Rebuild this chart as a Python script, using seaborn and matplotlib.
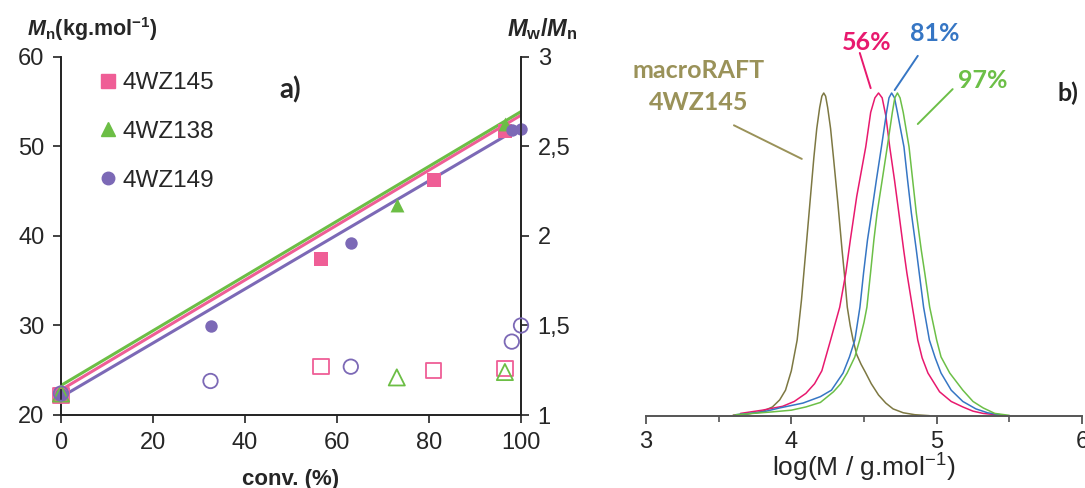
import numpy as np
import pandas as pd
import matplotlib.pyplot as plt
import seaborn as sns
from matplotlib.lines import Line2D

# ---- panel a) : Mn and Mw/Mn vs conversion ----
samples = ['4WZ145', '4WZ138', '4WZ149']
conv_145 = [0, 56.5, 81, 96.5]
mn_145 = [22.3, 37.4, 46.3, 51.7]
disp_145 = [1.11, 1.27, 1.25, 1.26]
conv_138 = [0, 73, 96.5]
mn_138 = [22.6, 43.5, 52.5]
disp_138 = [1.12, 1.21, 1.24]
conv_149 = [0, 32.5, 63, 98, 100]
mn_149 = [22.3, 29.9, 39.2, 51.8, 52.0]
disp_149 = [1.12, 1.19, 1.27, 1.41, 1.50]
# linear fits, Mn at 0 % and 100 % conversion
fit_conv = [0, 100]
fit_145 = [22.8, 53.5]
fit_138 = [23.3, 53.9]
fit_149 = [22.0, 52.2]

# ---- panel b) : SEC traces (normalised) ----
raft_x = [3.60, 3.70, 3.80, 3.87, 3.92, 3.96, 4.00, 4.04, 4.07, 4.10, 4.13, 4.155, 4.175, 4.195, 4.21, 4.223, 4.236,
          4.25, 4.27, 4.29, 4.32, 4.349, 4.365, 4.385, 4.405, 4.425, 4.45, 4.48, 4.51, 4.55, 4.60, 4.65, 4.70, 4.77,
          4.85, 4.95]
raft_y = [0.003, 0.006, 0.014, 0.028, 0.05, 0.08, 0.14, 0.235, 0.36, 0.514, 0.67, 0.80, 0.89, 0.955, 0.99, 1.0, 0.99,
          0.955, 0.89, 0.80, 0.66, 0.514, 0.44, 0.337, 0.28, 0.235, 0.19, 0.16, 0.135, 0.10, 0.065, 0.04, 0.022, 0.01,
          0.004, 0.001]
c56_x = [3.65, 3.80, 3.94, 4.02, 4.10, 4.16, 4.21, 4.27, 4.333, 4.375, 4.406, 4.45, 4.512, 4.546, 4.575, 4.60, 4.625,
         4.65, 4.677, 4.71, 4.74, 4.773, 4.795, 4.833, 4.87, 4.90, 4.94, 5.02, 5.10, 5.18, 5.25, 5.32, 5.45]
c56_y = [0.008, 0.018, 0.03, 0.045, 0.07, 0.10, 0.14, 0.235, 0.337, 0.443, 0.545, 0.68, 0.833, 0.94, 0.985, 1.0, 0.985,
         0.93, 0.833, 0.73, 0.628, 0.514, 0.443, 0.337, 0.235, 0.18, 0.133, 0.075, 0.045, 0.028, 0.015, 0.008, 0.002]
c81_x = [3.62, 3.80, 3.92, 4.08, 4.20, 4.276, 4.356, 4.40, 4.437, 4.472, 4.497, 4.524, 4.552, 4.585, 4.62, 4.655, 4.672,
         4.69, 4.71, 4.73, 4.755, 4.775, 4.80, 4.826, 4.86, 4.88, 4.91, 4.95, 4.99, 5.03, 5.10, 5.18, 5.27, 5.35, 5.45]
c81_y = [0.004, 0.012, 0.025, 0.04, 0.06, 0.08, 0.133, 0.183, 0.235, 0.337, 0.443, 0.545, 0.628, 0.73, 0.833, 0.94, 0.985,
         1.0, 0.985, 0.94, 0.88, 0.833, 0.73, 0.628, 0.514, 0.443, 0.337, 0.235, 0.18, 0.133, 0.08, 0.045, 0.022, 0.01,
         0.003]
c97_x = [3.62, 3.85, 4.00, 4.10, 4.20, 4.29, 4.34, 4.384, 4.437, 4.47, 4.50, 4.52, 4.545, 4.568, 4.59, 4.625, 4.66, 4.695,
         4.712, 4.73, 4.748, 4.77, 4.81, 4.835, 4.86, 4.894, 4.918, 4.952, 5.00, 5.03, 5.09, 5.18, 5.25, 5.32, 5.40, 5.50]
c97_y = [0.004, 0.012, 0.018, 0.028, 0.042, 0.075, 0.10, 0.133, 0.183, 0.235, 0.29, 0.337, 0.443, 0.545, 0.628, 0.73,
         0.833, 0.94, 0.985, 1.0, 0.985, 0.94, 0.833, 0.73, 0.628, 0.514, 0.443, 0.337, 0.235, 0.183, 0.133, 0.08, 0.045,
         0.025, 0.008, 0.002]

pink, green, purple = '#EF5E96', '#6CBE45', '#7C69B6'
c_raft, c_raft_txt = '#7D7842', '#9A9259'
c56, c81, c97 = '#E8196E', '#3676C4', '#6CBF47'

sns.set_style('ticks')
plt.rcParams['font.family'] = ['Liberation Sans', 'DejaVu Sans']
plt.rcParams['mathtext.fontset'] = 'custom'
plt.rcParams['mathtext.rm'] = 'Liberation Sans'
plt.rcParams['mathtext.it'] = 'Liberation Sans:italic'
plt.rcParams['mathtext.bf'] = 'Liberation Sans:bold'
plt.rcParams['mathtext.bfit'] = 'Liberation Sans:bold:italic'

W, H = 1085, 488
fig = plt.figure(figsize=(W / 100, H / 100), dpi=100)
ax = fig.add_axes([61 / W, 1 - 415 / H, 460 / W, 358 / H])
ax2 = ax.twinx()
axb = fig.add_axes([646 / W, 1 - 416 / H, 436 / W, 396 / H])

# fits
for f, c in [(fit_149, purple), (fit_145, pink), (fit_138, green)]:
    sns.lineplot(x=fit_conv, y=f, ax=ax, color=c, lw=2.2, estimator=None)

# filled Mn symbols
groups = [(conv_145, mn_145, disp_145, pink, 's', 90),
          (conv_138, mn_138, disp_138, green, '^', 100),
          (conv_149, mn_149, disp_149, purple, 'o', 80)]
for cx, mn, d, c, m, s in groups:
    sns.scatterplot(x=cx, y=mn, ax=ax, color=c, marker=m, s=s, linewidth=0, zorder=5, clip_on=False)
# open Mw/Mn symbols
for cx, mn, d, c, m, s in groups:
    sns.scatterplot(x=cx, y=d, ax=ax2, marker=m, s=s * 1.35, facecolor='none', edgecolor=c, linewidth=1.3,
                    zorder=5, clip_on=False)

ax.set_xlim(0, 100)
ax.set_ylim(20, 60)
ax.set_xticks([0, 20, 40, 60, 80, 100])
ax.set_yticks([20, 30, 40, 50, 60])
ax2.set_ylim(1, 3)
ax2.set_yticks([1, 1.5, 2, 2.5, 3])
ax2.set_yticklabels(['1', '1,5', '2', '2,5', '3'])
for a in (ax, ax2):
    a.spines['top'].set_visible(False)
    for sp in a.spines.values():
        sp.set_linewidth(1.2)
        sp.set_color('#222222')
    a.tick_params(labelsize=17, length=6, width=1.2, color='#222222', pad=6)
    a.set_xlabel('')
    a.set_ylabel('')
ax.set_xlabel('conv. (%)', fontsize=16, fontweight='bold', labelpad=11)

handles = [Line2D([], [], ls='none', marker='s', color=pink, ms=9.5),
           Line2D([], [], ls='none', marker='^', color=green, ms=10),
           Line2D([], [], ls='none', marker='o', color=purple, ms=9)]
ax2.legend(handles, samples, loc='upper left', bbox_to_anchor=((98 - 61) / 460, (415 - 72) / 358), frameon=False,
           fontsize=17.5, handlelength=0.8, handletextpad=0.2, labelspacing=1.1, borderaxespad=0, borderpad=0)

fig.text(27 / W, 1 - 29 / H, r'$\mathbfit{M}_{\mathbf{n}}$(kg.mol$^{\mathbf{-1}}$)', fontsize=15.5,
         fontweight='bold', ha='left', va='center')
fig.text(578 / W, 1 - 29 / H, r'$\mathbfit{M}_{\mathbf{w}}\mathbf{/}\mathbfit{M}_{\mathbf{n}}$', fontsize=17,
         ha='right', va='center')
fig.text(290 / W, 1 - 90 / H, 'a)', fontsize=20, fontweight='bold', family=['Lato', 'DejaVu Sans'],
         ha='center', va='center')

# ---- panel b ----
traces = pd.concat([
    pd.DataFrame({'logM': raft_x, 'w': raft_y, 'run': 'macroRAFT'}),
    pd.DataFrame({'logM': c56_x, 'w': c56_y, 'run': '56%'}),
    pd.DataFrame({'logM': c81_x, 'w': c81_y, 'run': '81%'}),
    pd.DataFrame({'logM': c97_x, 'w': c97_y, 'run': '97%'}),
])
sns.lineplot(data=traces, x='logM', y='w', hue='run', ax=axb, estimator=None, sort=False, lw=1.1,
             palette={'macroRAFT': c_raft, '56%': c56, '81%': c81, '97%': c97}, legend=False)
axb.set_xlim(3, 6)
axb.set_ylim(0, (416 - 20) / 323)
axb.set_xticks([3, 4, 5, 6])
axb.set_xticks([3.5, 4.5, 5.5], minor=True)
axb.set_yticks([])
for s in ['left', 'right', 'top']:
    axb.spines[s].set_visible(False)
axb.spines['bottom'].set_linewidth(1.4)
axb.spines['bottom'].set_color('#555555')
axb.tick_params(axis='x', which='major', labelsize=17, length=6, width=1.3, color='#555555', pad=5)
axb.tick_params(axis='x', which='minor', length=4, width=1.2, color='#555555')
axb.set_ylabel('')
axb.set_xlabel('log(M / g.mol$^{-1}$)', fontsize=19, labelpad=-1)

lato = ['Lato', 'DejaVu Sans']
axb.text(3.36, 1.02, 'macroRAFT\n4WZ145', color=c_raft_txt, fontsize=18, fontweight='bold', family=lato,
         ha='center', va='center', linespacing=1.45)
axb.plot([3.605, 4.072], [0.90, 0.796], color=c_raft_txt, lw=1.4)
axb.text(4.52, 1.157, '56%', color=c56, fontsize=18, fontweight='bold', family=lato, ha='center', va='center')
axb.plot([4.471, 4.546], [1.124, 1.015], color=c56, lw=1.4)
axb.text(4.99, 1.185, '81%', color=c81, fontsize=18, fontweight='bold', family=lato, ha='center', va='center')
axb.plot([4.87, 4.711], [1.115, 1.009], color=c81, lw=1.4)
axb.text(5.32, 1.038, '97%', color=c97, fontsize=18, fontweight='bold', family=lato, ha='center', va='center')
axb.plot([5.11, 4.87], [1.012, 0.904], color=c97, lw=1.4)
axb.text(5.9, 1.0, 'b)', fontsize=18, fontweight='bold', family=lato, ha='center', va='center', color='#222222')

fig.savefig('out.png', dpi=100)
